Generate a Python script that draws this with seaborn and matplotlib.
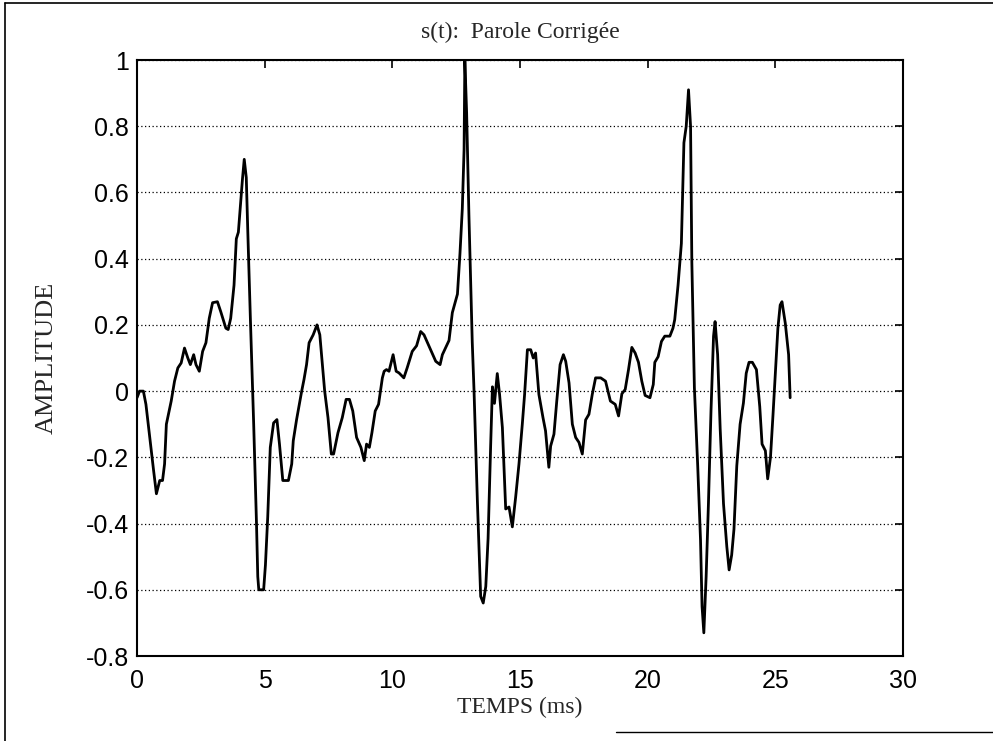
import numpy as np
import pandas as pd
import matplotlib
matplotlib.use("Agg")
import matplotlib.pyplot as plt
import seaborn as sns
from matplotlib.ticker import FuncFormatter

# ---- data ----
temps_ms = [
    0.0, 0.1, 0.25, 0.35, 0.5, 0.65, 0.76, 0.89, 1.0, 1.08,
    1.15, 1.34, 1.47, 1.6, 1.73, 1.86, 1.99, 2.09, 2.22, 2.31,
    2.44, 2.57, 2.70, 2.83, 2.96, 3.15, 3.28, 3.48, 3.57, 3.67,
    3.80, 3.89, 3.97, 4.06, 4.13, 4.2, 4.28, 4.34, 4.44, 4.53,
    4.57, 4.68, 4.73, 4.77, 4.96, 5.03, 5.12, 5.22, 5.35, 5.48,
    5.58, 5.71, 5.93, 6.06, 6.12, 6.25, 6.45, 6.54, 6.64, 6.74,
    6.9, 7.05, 7.16, 7.26, 7.35, 7.48, 7.61, 7.70, 7.87, 8.04,
    8.19, 8.32, 8.45, 8.6, 8.77, 8.9, 8.99, 9.1, 9.2, 9.33,
    9.46, 9.61, 9.68, 9.77, 9.87, 10.03, 10.15, 10.26, 10.45, 10.58,
    10.78, 10.95, 11.11, 11.24, 11.5, 11.7, 11.87, 11.96, 12.22, 12.35,
    12.55, 12.65, 12.74, 12.81, 12.84, 12.91, 13.0, 13.13, 13.2, 13.33,
    13.46, 13.56, 13.66, 13.75, 13.85, 13.92, 14.0, 14.11, 14.2, 14.31,
    14.44, 14.57, 14.7, 14.83, 14.96, 15.09, 15.18, 15.29, 15.42, 15.52,
    15.61, 15.74, 15.9, 16.0, 16.13, 16.2, 16.33, 16.44, 16.57, 16.7,
    16.79, 16.92, 17.05, 17.18, 17.31, 17.44, 17.57, 17.7, 17.83, 17.96,
    18.16, 18.35, 18.54, 18.73, 18.86, 18.99, 19.12, 19.25, 19.38, 19.51,
    19.64, 19.77, 19.9, 20.09, 20.22, 20.28, 20.41, 20.54, 20.67, 20.87,
    20.99, 21.06, 21.19, 21.32, 21.42, 21.51, 21.6, 21.68, 21.73, 21.83,
    21.96, 22.07, 22.13, 22.2, 22.29, 22.38, 22.48, 22.58, 22.64, 22.74,
    22.84, 22.97, 23.1, 23.19, 23.29, 23.38, 23.49, 23.62, 23.75, 23.86,
    23.97, 24.1, 24.26, 24.39, 24.48, 24.61, 24.7, 24.81, 24.91, 25.0,
    25.1, 25.19, 25.26, 25.39, 25.52, 25.58,
]
amplitude = [
    -0.02, 0.0, 0.0, -0.04, -0.14, -0.24, -0.31, -0.27, -0.27, -0.22,
    -0.10, -0.03, 0.03, 0.07, 0.085, 0.13, 0.10, 0.08, 0.11, 0.08,
    0.06, 0.12, 0.146, 0.22, 0.267, 0.27, 0.24, 0.19, 0.186, 0.22,
    0.32, 0.46, 0.48, 0.57, 0.64, 0.70, 0.645, 0.48, 0.22, 0.0,
    -0.10, -0.40, -0.56, -0.60, -0.60, -0.525, -0.38, -0.17, -0.096, -0.086,
    -0.16, -0.27, -0.27, -0.22, -0.15, -0.086, 0.0, 0.035, 0.08, 0.146,
    0.17, 0.20, 0.17, 0.08, 0.0, -0.08, -0.19, -0.19, -0.126, -0.08,
    -0.025, -0.025, -0.06, -0.14, -0.17, -0.21, -0.16, -0.17, -0.126, -0.06,
    -0.04, 0.04, 0.06, 0.065, 0.06, 0.11, 0.06, 0.055, 0.04, 0.07,
    0.12, 0.137, 0.18, 0.17, 0.125, 0.09, 0.08, 0.11, 0.153, 0.237,
    0.293, 0.417, 0.55, 0.73, 1.0, 0.84, 0.53, 0.148, 0.0, -0.33,
    -0.62, -0.64, -0.59, -0.445, -0.166, 0.013, -0.037, 0.053, -0.01, -0.11,
    -0.356, -0.35, -0.41, -0.32, -0.22, -0.10, -0.01, 0.125, 0.125, 0.10,
    0.115, -0.01, -0.08, -0.12, -0.23, -0.166, -0.13, -0.03, 0.08, 0.11,
    0.09, 0.025, -0.10, -0.14, -0.155, -0.19, -0.087, -0.07, -0.01, 0.04,
    0.04, 0.03, -0.03, -0.04, -0.075, -0.008, 0.005, 0.065, 0.132, 0.115,
    0.087, 0.03, -0.013, -0.02, 0.02, 0.087, 0.104, 0.15, 0.166, 0.166,
    0.19, 0.216, 0.32, 0.446, 0.75, 0.80, 0.91, 0.80, 0.39, 0.01,
    -0.226, -0.45, -0.65, -0.73, -0.56, -0.34, -0.06, 0.166, 0.21, 0.11,
    -0.114, -0.34, -0.47, -0.54, -0.495, -0.417, -0.226, -0.10, -0.036, 0.054,
    0.087, 0.087, 0.065, -0.047, -0.16, -0.18, -0.265, -0.2, -0.07, 0.054,
    0.19, 0.26, 0.27, 0.205, 0.11, -0.02,
]
x_ticks = [0, 5, 10, 15, 20, 25, 30]
y_ticks = [-0.8, -0.6, -0.4, -0.2, 0, 0.2, 0.4, 0.6, 0.8, 1]
title_text = "s(t):  Parole Corrigée"
x_label = "TEMPS (ms)"
y_label = "AMPLITUDE"

n = min(len(temps_ms), len(amplitude))
df = pd.DataFrame({"t": temps_ms[:n], "a": amplitude[:n]})

sns.set_theme(style="white")
plt.rcParams["font.family"] = ["Liberation Sans", "DejaVu Sans"]
serif = ["Liberation Serif", "DejaVu Serif"]

fig = plt.figure(figsize=(9.93, 7.41), dpi=100)
ax = fig.add_axes([137 / 993, 1 - 656 / 741, (903 - 137) / 993, (656 - 60) / 741])

sns.lineplot(data=df, x="t", y="a", ax=ax, sort=False, estimator=None,
             color="black", linewidth=2.0)

ax.set_xlim(0, 30)
ax.set_ylim(-0.8, 1.0)
ax.set_xticks(x_ticks)
ax.set_yticks(y_ticks)
fmt = FuncFormatter(lambda v, p: f"{v:g}")
ax.xaxis.set_major_formatter(fmt)
ax.yaxis.set_major_formatter(fmt)
ax.tick_params(axis="both", direction="in", length=6, width=1.2, colors="black",
               labelsize=18, top=True, right=True)
ax.tick_params(axis="x", pad=9)
ax.tick_params(axis="y", pad=6)

ax.yaxis.grid(True, color="black", linestyle=(0, (1, 2)), linewidth=0.9)
ax.xaxis.grid(False)
for s in ax.spines.values():
    s.set_color("black")
    s.set_linewidth(1.5)

ax.set_title(title_text, family=serif, fontsize=17, pad=16)
ax.set_xlabel(x_label, family=serif, fontsize=17, labelpad=3)
ax.set_ylabel(y_label, family=serif, fontsize=19, labelpad=20)

# scan frame around the figure
fig.add_artist(plt.Line2D([0.005, 1.0], [0.996, 0.996], color="black", lw=1.2,
                          transform=fig.transFigure))
fig.add_artist(plt.Line2D([0.005, 0.005], [0.0, 0.996], color="black", lw=1.2,
                          transform=fig.transFigure))
fig.add_artist(plt.Line2D([0.62, 1.0], [0.012, 0.012], color="black", lw=1.0,
                          transform=fig.transFigure))

fig.savefig("out.png", dpi=100)
